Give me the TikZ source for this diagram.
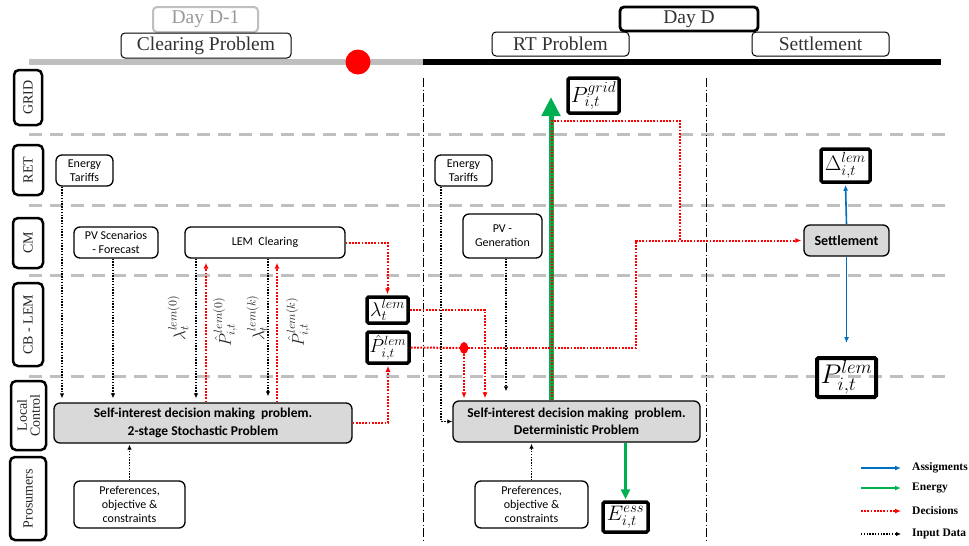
\RequirePackage{fix-cm}
\documentclass[tikz,border=0pt]{standalone}
\usepackage{fontspec}
\setmainfont{Liberation Serif}
\newfontfamily\cfont{Carlito}
\usetikzlibrary{arrows.meta,shapes.geometric}
\definecolor{lanegray}{HTML}{BFBFBF}
\definecolor{boxgray}{HTML}{D9D9D9}
\definecolor{egreen}{HTML}{00B050}
\definecolor{ablue}{HTML}{0070C0}
\tikzset{
  lane/.style={draw, line width=2.5pt, rounded corners=5pt, fill=white, rotate=90,
    font=\fontsize{14}{14}\selectfont, inner sep=0pt, align=center, text=black!85},
  hdr/.style={draw, line width=1pt, rounded corners=4pt, fill=white,
    font=\fontsize{19.5}{20}\selectfont, inner sep=0pt, text=black!80},
  wbox/.style={draw, line width=1.3pt, rounded corners=6pt, fill=white,
    font=\cfont\fontsize{12}{14}\selectfont, align=center, inner sep=1pt},
  gbox/.style={wbox, fill=boxgray, font=\cfont\bfseries\fontsize{13.5}{17.5}\selectfont},
  mbox/.style={draw, line width=3.5pt, rounded corners=1.5pt, fill=white, inner sep=0.5pt},
  rlab/.style={rotate=90, inner sep=0pt, font=\fontsize{17}{17}\selectfont, text=black!85},
  inp/.style={line width=1.4pt, dash pattern=on 1.4pt off 1.4pt, -{Latex[length=5pt,width=4.5pt]}},
  decl/.style={red, line width=2pt, dash pattern=on 1.8pt off 1.4pt},
  dec/.style={decl, -{Latex[length=6pt,width=5pt]}},
  enr/.style={egreen, line width=5pt, -{Triangle[length=19pt,width=18pt]}},
  enrs/.style={egreen, line width=3pt, -{Triangle[length=10pt,width=9pt]}},
  asg/.style={ablue, line width=1.6pt, -{Latex[length=6pt,width=5pt]}},
  lanesep/.style={lanegray, line width=3pt, dash pattern=on 13pt off 8pt},
  phase/.style={black, line width=0.8pt, dash pattern=on 9pt off 2.5pt on 1pt off 2.5pt},
  leg/.style={anchor=west, inner sep=0pt, font=\bfseries\fontsize{11.5}{12}\selectfont}
}
\begin{document}
\begin{tikzpicture}[x=1pt,y=-1pt]
\useasboundingbox (0,0) rectangle (969,546);
\fill[white] (0,0) rectangle (969,546);

% lane separators
\foreach \yy in {134,205,275,376}
  \draw[lanesep] (29,\yy) -- (945,\yy);
% phase separators
\draw[phase] (423,78) -- (423,540);
\draw[phase] (706,78) -- (706,540);

% timeline
\draw[lanegray, line width=6pt] (29,62) -- (423,62);
\draw[black, line width=6pt] (423,62) -- (941,62);
\fill[red] (358,62) circle (12.5);

% headers
\node[hdr, draw=lanegray, line width=2pt, text=black!40, minimum width=105, minimum height=25] (dm1) at (205.5,19.5) {Day D-1};
\node[hdr, minimum width=170, minimum height=25] (clr) at (206,45.5) {Clearing Problem};
\node[hdr, minimum width=137, minimum height=24] (rt) at (560.5,44) {RT Problem};
\node[hdr, line width=2.8pt, minimum width=138, minimum height=24] (dd) at (689,19) {Day D};
\node[hdr, minimum width=137, minimum height=24] (sth) at (820.5,44) {Settlement};

% lane labels
\node[lane, minimum width=55, minimum height=28] (lgrid) at (28,97.5) {GRID};
\node[lane, minimum width=50, minimum height=30] (lret) at (28,170) {RET};
\node[lane, minimum width=50, minimum height=30] (lcm) at (28,243) {CM};
\node[lane, minimum width=83, minimum height=30] (lcb) at (28,324.5) {CB - LEM};
\node[lane, minimum width=69, minimum height=35, font=\fontsize{14}{13}\selectfont] (llc) at (28.5,415.5) {Local\\Control};
\node[lane, minimum width=83, minimum height=36] (lpro) at (28,498.5) {Prosumers};

% boxes
\node[wbox, minimum width=57, minimum height=31] (et1) at (84.5,170.5) {Energy\\Tariffs};
\node[wbox, minimum width=84, minimum height=31] (pv1) at (116,242.5) {PV Scenarios\\- Forecast};
\node[wbox, minimum width=160, minimum height=31] (lem) at (265,242.5) {LEM~ Clearing};
\node[wbox, minimum width=57, minimum height=31] (et2) at (463.5,170.5) {Energy\\Tariffs};
\node[wbox, minimum width=79, minimum height=44] (pv2) at (502.5,236) {PV -\\Generation};
\node[gbox, minimum width=85, minimum height=31, font=\cfont\bfseries\fontsize{14}{15}\selectfont] (settle) at (846.5,240.5) {Settlement};
\node[gbox, minimum width=298, minimum height=40] (stoch) at (203,423) {Self-interest decision making~ problem.\\2-stage Stochastic Problem};
\node[gbox, minimum width=247, minimum height=41] (det) at (576.5,421.5) {Self-interest decision making~ problem.\\Deterministic Problem};
\node[wbox, minimum width=111, minimum height=47] (pref1) at (129.5,504.5) {Preferences,\\objective \&\\constraints};
\node[wbox, minimum width=113, minimum height=47] (pref2) at (531.5,504.5) {Preferences,\\objective \&\\constraints};

% math boxes
\node[mbox, minimum width=41, minimum height=26, font=\fontsize{20}{20}\selectfont] (lam) at (387.5,310) {$\lambda_t^{lem}$};
\node[mbox, minimum width=42, minimum height=31, font=\fontsize{19}{19}\selectfont] (phat) at (388,347.5) {$\hat{P}_{i,t}^{lem}$};
\node[mbox, minimum width=51, minimum height=35, font=\fontsize{22}{22}\selectfont] (pgrid) at (593.5,95.5) {$P_{i,t}^{grid}$};
\node[mbox, minimum width=45, minimum height=30, font=\fontsize{21}{21}\selectfont] (ess) at (625.5,517) {$E_{i,t}^{ess}$};
\node[mbox, minimum width=49, minimum height=33, font=\fontsize{21}{21}\selectfont] (delta) at (845.5,165.5) {$\Delta_{i,t}^{lem}$};
\node[mbox, fill=none, line width=4pt, minimum width=59, minimum height=39, font=\fontsize{27}{27}\selectfont] (plem) at (846.5,377.5) {$P_{i,t}^{lem}$};

% rotated iteration labels
\node[rlab] (l0) at (178,318) {$\lambda_t^{lem(0)}$};
\node[rlab] (p0) at (225,322) {$\hat{P}_{i,t}^{lem(0)}$};
\node[rlab] (lk) at (257,318) {$\lambda_t^{lem(k)}$};
\node[rlab] (pk) at (298,322) {$\hat{P}_{i,t}^{lem(k)}$};

% day D-1 connectors
\draw[inp, shorten >=4pt] (et1.south -| 62,0) -- (stoch.north -| 62,0);
\draw[inp, shorten >=4pt] (pv1.south -| 113,0) -- (stoch.north -| 113,0);
\draw[inp, shorten >=4pt] (lem.south -| 196,0) -- (stoch.north -| 196,0);
\draw[inp, shorten >=6pt] (lem.south -| 268,0) -- (stoch.north -| 268,0);
\draw[dec, shorten >=4pt] (stoch.north -| 206,0) -- (lem.south -| 206,0);
\draw[dec, shorten >=4pt] (stoch.north -| 277,0) -- (lem.south -| 277,0);
\draw[inp, shorten >=1pt] (pref1.north) -- (stoch.south -| pref1.north);
\draw[dec, shorten >=1pt] (lem.east) -| (lam.north);
\draw[dec, shorten >=1pt] (stoch.east) -| (phat.south);

% day D connectors
\node[fill=red, ellipse, inner sep=0pt, minimum width=8, minimum height=12] (rdot) at (464,348) {};
\draw[decl] (phat.east) -- (rdot);
\draw[dec, shorten >=2pt] (rdot) -- (det.north -| rdot);
\draw[dec, shorten >=2pt] (lam.east) -| (det.north -| 485,0);
\draw[inp] (et2.south -| 441,0) |- (det.west);
\draw[inp, shorten >=9pt] (pv2.south -| 506,0) -- (det.north -| 506,0);
\draw[inp, shorten >=1pt] (pref2.north) -- (det.south -| pref2.north);
\coordinate (gtip) at (551,97);
\draw[enr] (det.north -| gtip) -- (gtip);
\draw[enrs, shorten >=1pt] (det.south -| ess.north) -- (ess.north);
\draw[decl] (det.north -| 552,0) -- (552,121) -- (680,121) -- (680,240.5);
\draw[dec, shorten >=2pt] (rdot) -- (636,348) -- (636,240.5) -- (settle.west);
\draw[asg, shorten >=1pt] (settle.north) -- (delta.south);
\draw[asg, shorten >=13pt] (settle.south) -- (plem.north);

% legend
\node[leg] (la) at (912,468) {Assigments};
\node[leg] (le) at (912,488) {Energy};
\node[leg] (ld) at (912,511) {Decisions};
\node[leg] (li) at (912,534) {Input Data};
\draw[asg, line width=1.8pt, shorten >=11pt] (861,468) -- (la.west);
\draw[egreen, line width=1.8pt, -{Latex[length=6pt,width=5pt]}, shorten >=11pt] (861,488) -- (le.west);
\draw[dec, shorten >=11pt] (861,511) -- (ld.west);
\draw[inp, shorten >=11pt] (861,534) -- (li.west);
\end{tikzpicture}
\end{document}
